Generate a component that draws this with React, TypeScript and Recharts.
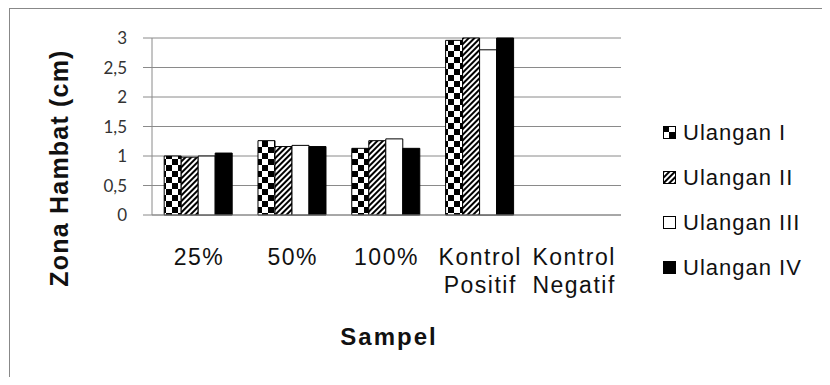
import { BarChart, Bar, XAxis, YAxis, CartesianGrid, Legend, Label } from "recharts";

const categories = ["25%", "50%", "100%", "Kontrol Positif", "Kontrol Negatif"];
const ulanganI = [1.0, 1.26, 1.13, 2.96, null];
const ulanganII = [0.98, 1.16, 1.26, 3.0, null];
const ulanganIII = [1.0, 1.18, 1.29, 2.8, null];
const ulanganIV = [1.05, 1.16, 1.13, 3.0, null];
const yTicks = [0, 0.5, 1, 1.5, 2, 2.5, 3];

const series = [
  { key: "u1", name: "Ulangan I", fill: "url(#checker)", values: ulanganI },
  { key: "u2", name: "Ulangan II", fill: "url(#stripes)", values: ulanganII },
  { key: "u3", name: "Ulangan III", fill: "#ffffff", values: ulanganIII },
  { key: "u4", name: "Ulangan IV", fill: "#000000", values: ulanganIV },
];

const data = categories.map((c, i) => {
  const row: Record<string, any> = { name: c };
  series.forEach((s) => (row[s.key] = s.values[i]));
  return row;
});

const pixFont = "'Liberation Sans', Arial, sans-serif";

function XTick({ x, y, payload }: any) {
  const lines = String(payload.value).split(" ");
  return (
    <text x={x} y={y} textAnchor="middle" fontFamily={pixFont} fontSize={23} letterSpacing={1.5} fill="#111">
      {lines.map((l, i) => (
        <tspan key={i} x={x} dy={i === 0 ? 50 : 28}>
          {l}
        </tspan>
      ))}
    </text>
  );
}

function LegendBox() {
  return (
    <div>
      {series.map((s) => (
        <div key={s.key} style={{ display: "flex", alignItems: "center", height: 45 }}>
          <svg width={14} height={14} style={{ marginRight: 6 }}>
            <rect x={0.5} y={0.5} width={12} height={12} fill={s.fill} stroke="#000" />
          </svg>
          <span style={{ fontFamily: pixFont, fontSize: 22, letterSpacing: 1, color: "#111" }}>{s.name}</span>
        </div>
      ))}
    </div>
  );
}

export default function App() {
  return (
    <div style={{ marginLeft: 1, width: 820, height: 368, borderLeft: "1px solid #888", borderTop: "1px solid #888", background: "#fff" }}>
      <BarChart
        width={820}
        height={368}
        data={data}
        margin={{ top: 29, right: 209, left: 82, bottom: 102 }}
        barCategoryGap="13%"
        barGap={0}
      >
        <defs>
          <pattern id="checker" width={12} height={12} patternUnits="userSpaceOnUse">
            <rect width={12} height={12} fill="#fff" />
            <rect width={6} height={6} fill="#000" />
            <rect x={6} y={6} width={6} height={6} fill="#000" />
          </pattern>
          <pattern id="stripes" width={4} height={4} patternUnits="userSpaceOnUse" patternTransform="rotate(45)">
            <rect width={4} height={4} fill="#fff" />
            <rect width={2} height={4} fill="#000" />
          </pattern>
        </defs>
        <CartesianGrid vertical={false} stroke="#8a8a8a" />
        <XAxis
          dataKey="name"
          interval={0}
          tickLine={false}
          tickSize={0}
          tickMargin={0}
          height={60}
          axisLine={{ stroke: "#8a8a8a" }}
          tick={<XTick />}
        >
          <Label
            content={() => (
              <text x={379} y={336} textAnchor="middle" fontFamily={pixFont} fontWeight="bold" fontSize={24} letterSpacing={2} fill="#111">
                Sampel
              </text>
            )}
          />
        </XAxis>
        <YAxis
          width={60}
          domain={[0, 3]}
          ticks={yTicks}
          interval={0}
          tickSize={9}
          tickMargin={16}
          tickLine={{ stroke: "#8a8a8a" }}
          axisLine={{ stroke: "#8a8a8a" }}
          tick={{ fontFamily: "Lato, sans-serif", fontSize: 17, fill: "#333" }}
          tickFormatter={(v: number) => String(v).replace(".", ",")}
        >
          <Label
            content={() => (
              <text
                x={49}
                y={159}
                transform="rotate(-90, 49, 159)"
                textAnchor="middle"
                dominantBaseline="central"
                fontFamily={pixFont}
                fontWeight="bold"
                fontSize={25}
                letterSpacing={1.2}
                fill="#111"
              >
                Zona Hambat (cm)
              </text>
            )}
          />
        </YAxis>
        <Legend
          layout="vertical"
          align="center"
          verticalAlign="middle"
          content={<LegendBox />}
          wrapperStyle={{ left: 653, top: 101, width: 165 }}
        />
        {series.map((s) => (
          <Bar key={s.key} dataKey={s.key} name={s.name} fill={s.fill} stroke="#000" strokeWidth={1} isAnimationActive={false} />
        ))}
      </BarChart>
    </div>
  );
}
